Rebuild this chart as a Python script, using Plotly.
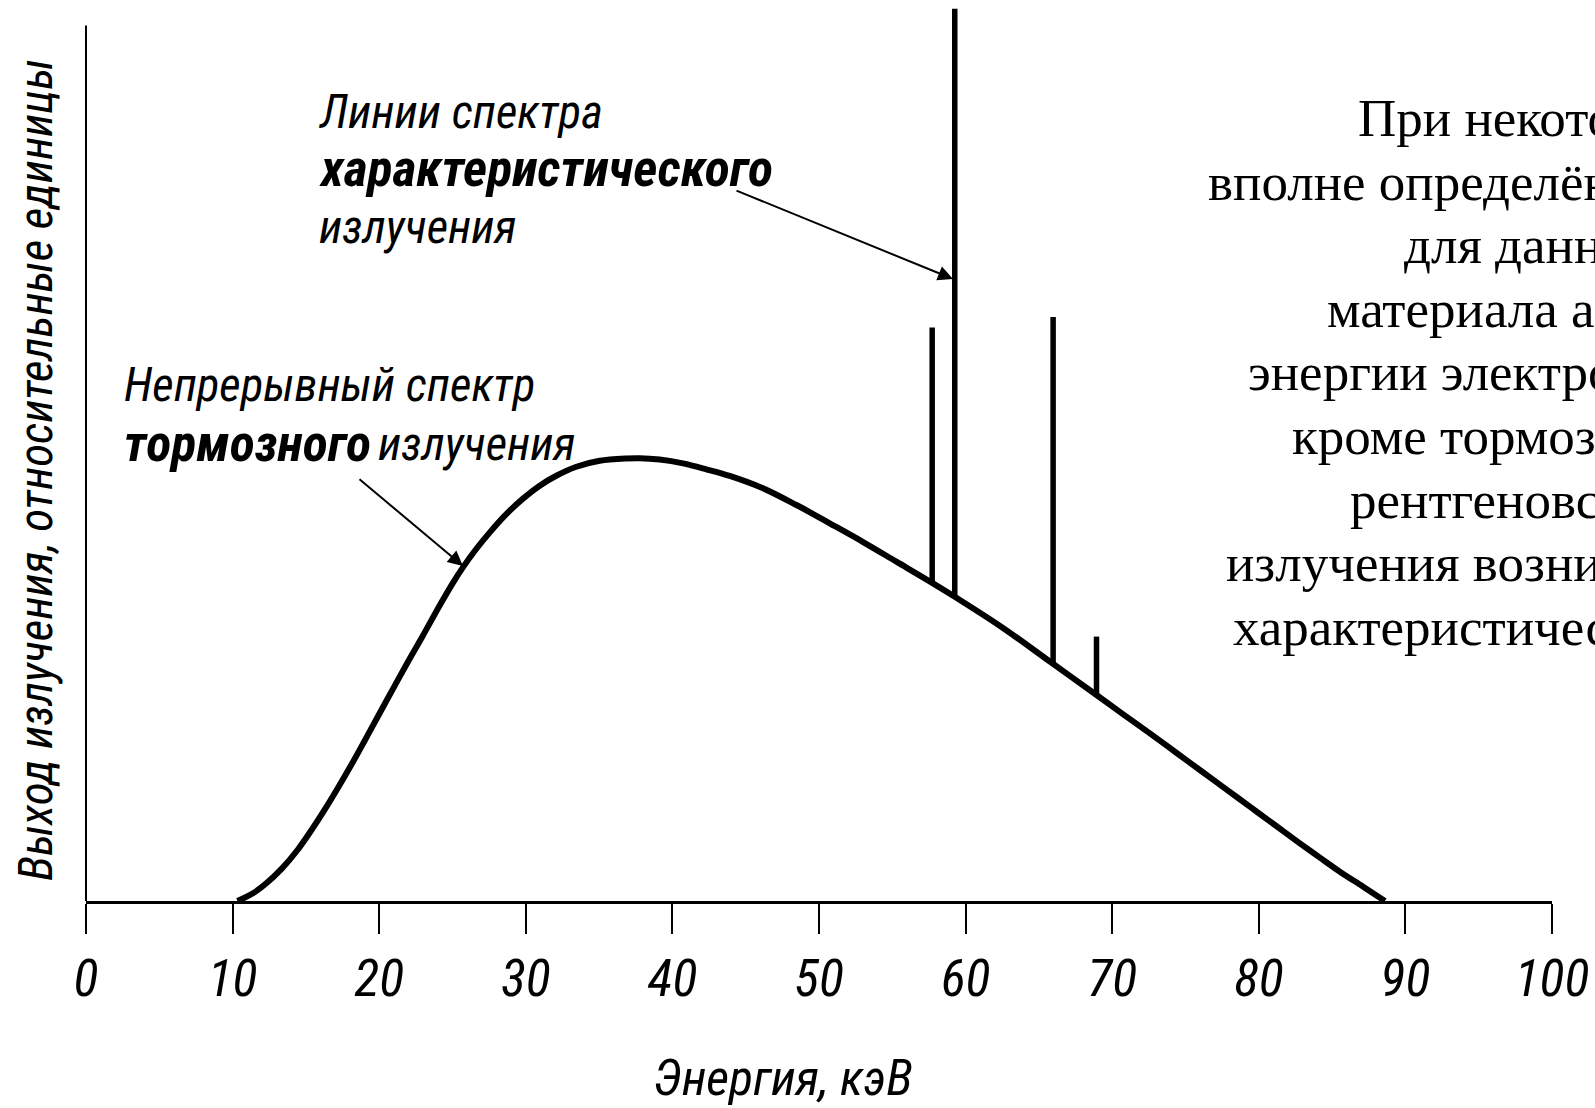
import plotly.graph_objects as go

# ---------------- data ----------------
# Continuous (bremsstrahlung) spectrum: energy (keV) vs relative output
curve_energy = [10.33, 11.39, 12.30, 13.37, 14.43, 15.34, 16.25, 17.16, 18.08, 18.99,
                19.90, 20.96, 22.03, 22.94, 24.24, 25.03, 25.71, 26.63, 27.53, 28.67,
                29.81, 30.95, 32.08, 33.45, 35.04, 36.86, 37.77, 39.13, 40.72, 42.32,
                43.91, 46.18, 48.46, 50.73, 53.01, 55.28, 57.72, 59.26, 62.50,
                65.75, 68.93, 70.75, 72.57, 74.28, 75.98, 77.69, 79.39, 81.10, 82.80,
                84.17, 85.53, 87.12, 88.60]
curve_output = [0.0, 0.88, 2.02, 3.73, 5.83, 8.00, 10.35, 12.85, 15.50, 18.25,
                21.05, 24.29, 27.53, 30.19, 34.09, 36.34, 38.11, 40.23, 42.08, 44.19,
                45.96, 47.44, 48.57, 49.60, 50.28, 50.55, 50.58, 50.42, 49.99, 49.31,
                48.55, 47.14, 45.23, 43.14, 41.00, 38.76, 36.34, 34.75, 31.25,
                27.35, 23.53, 21.32, 19.15, 17.05, 14.96, 12.87, 10.77, 8.68, 6.59,
                4.95, 3.35, 1.63, 0.0]

# Characteristic lines: energy, base (on the curve) and top
line_energy = [57.72, 59.26, 65.97, 68.93]
line_base = [36.4, 34.75, 27.1, 23.55]
line_top = [65.5, 101.9, 66.7, 30.2]

tick_values = [0, 10, 20, 30, 40, 50, 60, 70, 80, 90, 100]
tick_labels = ["0", "10", "20", "30", "40", "50", "60", "70", "80", "90", "100"]

x_title = "Энергия, кэВ"
y_title = "Выход излучения, относительные единицы"
label_char_lines = ["Линии спектра", "<b>характеристического</b>", "излучения"]
label_cont_lines = ["Непрерывный спектр", "<b>тормозного</b>", "излучения"]
side_text = ["При некотором,", "вполне определённом", "для данного",
             "материала анода", "энергии электронов,", "кроме тормозного",
             "рентгеновского", "излучения возникает", "характеристическое"]

# ---------------- layout constants (pixels) ----------------
W, H = 1595, 1108
L, R, T, B = 86, 43, 0, 207
PLOT_BOTTOM = H - B
PX_Y = 8.755
Y_MAX = (PLOT_BOTTOM - T) / PX_Y


def px2x(px):
    return (px - L) / (W - L - R)


def py2y(py):
    return (PLOT_BOTTOM - py) / (PLOT_BOTTOM - T)


NARROW = "Liberation Sans Narrow, Arial Narrow, Roboto Condensed, Liberation Sans, Arial, sans-serif"
SERIF = "Liberation Serif, Times New Roman, serif"

fig = go.Figure()

fig.add_trace(go.Scatter(
    x=curve_energy, y=curve_output, mode="lines",
    line=dict(color="black", width=6, shape="spline", smoothing=1.0),
    hoverinfo="skip", showlegend=False))

lx, ly = [], []
for e, b0, t0 in zip(line_energy, line_base, line_top):
    lx += [e, e, None]
    ly += [b0, t0, None]
fig.add_trace(go.Scatter(
    x=lx, y=ly, mode="lines", line=dict(color="black", width=5.5),
    hoverinfo="skip", showlegend=False))

annotations = []


def note(px, py, text, size, family=NARROW, style="italic", xanchor="left", angle=0):
    annotations.append(dict(x=px2x(px), y=py2y(py), xref="paper", yref="paper",
                            text=text, showarrow=False, xanchor=xanchor,
                            yanchor="middle", textangle=angle,
                            font=dict(family=family, size=size, color="black",
                                      style=style)))


# arrows (tip position, tail offset in pixels)
for tip, tail in [((953, 279), (735, 190)), ((463, 566), (358, 478))]:
    annotations.append(dict(x=px2x(tip[0]), y=py2y(tip[1]),
                            ax=tail[0] - tip[0], ay=tail[1] - tip[1],
                            xref="paper", yref="paper",
                            text="", showarrow=True, arrowhead=2, arrowsize=1.5,
                            arrowwidth=2, arrowcolor="black", standoff=0))

# italic labels, piece by piece
note(317, 112, label_char_lines[0], 47)
note(317, 168, label_char_lines[1], 52)
note(317, 226, label_char_lines[2], 47)
note(122, 384, label_cont_lines[0], 47)
note(122, 443, label_cont_lines[1], 52)
note(376, 443, label_cont_lines[2], 47)

# axis titles
note(783, 1078, x_title, 50, xanchor="center")
note(35, 470, y_title, 47, xanchor="center", angle=-90)

# serif side text (runs off the right edge, as in the reference)
side_left = [1356, 1206, 1402, 1325, 1246, 1290, 1348, 1224, 1231]
for i, (txt, lp) in enumerate(zip(side_text, side_left)):
    note(lp, 118 + 63.6 * i, txt, 53, family=SERIF, style="normal")

fig.update_layout(
    width=W, height=H,
    margin=dict(l=L, r=R, t=T, b=B, pad=0),
    paper_bgcolor="white", plot_bgcolor="white",
    showlegend=False,
    annotations=annotations,
    shapes=[dict(type="line", xref="paper", yref="y", x0=0, x1=0, y0=0, y1=100,
                 line=dict(color="black", width=2))],
    xaxis=dict(range=[0, 100], showgrid=False, zeroline=False,
               showline=True, linecolor="black", linewidth=3,
               ticks="outside", ticklen=30, tickwidth=1.5, tickcolor="black",
               tickvals=tick_values, ticktext=tick_labels,
               ticklabelstandoff=0,
               tickfont=dict(family=NARROW, size=52, color="black", style="italic"),
               fixedrange=True),
    yaxis=dict(range=[0, Y_MAX], visible=False, showgrid=False, zeroline=False,
               fixedrange=True),
)

fig.write_html("out.html")
